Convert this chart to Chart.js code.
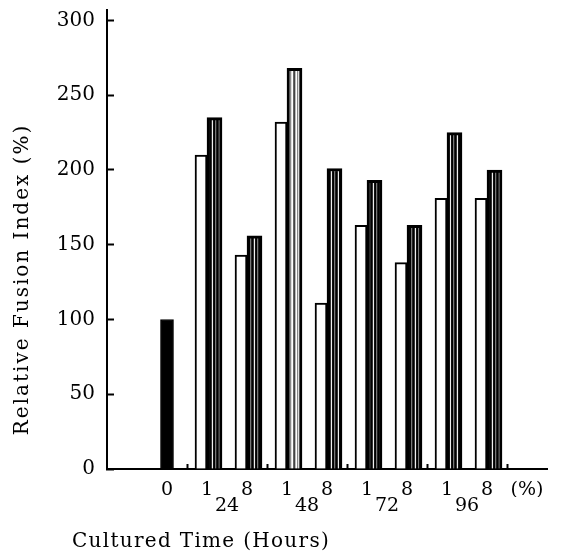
<!DOCTYPE html>
<html>
<head>
<meta charset="utf-8">
<title>Relative Fusion Index</title>
<script src="https://cdn.jsdelivr.net/npm/chart.js@4"></script>
<style>
html, body { margin: 0; padding: 0; background: #fff; }
</style>
</head>
<body>
<canvas id="fusionChart" width="561" height="553"></canvas>
<script>
// x categories: an empty slot, the control, pairs of doses (1 and 8 %), then the unit
var doseLabels = ['', '0', '1', '8', '1', '8', '1', '8', '1', '8', '(%)'];
var hourLabels = ['24', '48', '72', '96'];

var controlValues = [null, 100, null, null, null, null, null, null, null, null, null];
var plainValues   = [null, null, 210, 143, 232, 111, 163, 138, 181, 181, null];
var stripedValues = [null, null, 235, 156, 268, 201, 193, 163, 225, 200, null];

var yTicks = [0, 50, 100, 150, 200, 250, 300];

// hour label sits between the "1" and the "8" of its pair
var hourSlots = [];
doseLabels.forEach(function (d, i) {
    if (d === '1') hourSlots.push(i + 0.5);
});

function stripes(cols) {
    var c = document.createElement('canvas');
    c.width = cols.length;
    c.height = 4;
    var g = c.getContext('2d');
    cols.forEach(function (col, i) {
        g.fillStyle = col;
        g.fillRect(i, 0, 1, 4);
    });
    return g.createPattern(c, 'repeat');
}
var darkStripes = stripes(['#000', '#333', '#eee', '#111', '#000', '#777', '#222']);
var lightStripes = stripes(['#444', '#bbb', '#fff', '#888', '#ddd', '#fff', '#666']);

var serif = 'DejaVu Serif';

// axis titles are placed off-centre in the original, so draw them by hand
var axisTitles = {
    id: 'axisTitles',
    afterDraw: function (chart) {
        var c = chart.ctx;
        var area = chart.chartArea;
        c.save();
        c.fillStyle = '#000';
        c.font = '20px "' + serif + '"';
        c.letterSpacing = '1.3px';
        c.textAlign = 'left';
        c.textBaseline = 'alphabetic';
        c.fillText('Cultured Time (Hours)', area.left - 35, chart.height - 6);

        c.translate(area.left - 79, (area.top + area.bottom) / 2 + 40);
        c.rotate(-Math.PI / 2);
        c.letterSpacing = '2px';
        c.textAlign = 'center';
        c.fillText('Relative Fusion Index (%)', 0, 0);
        c.restore();
    }
};

var ctx = document.getElementById('fusionChart').getContext('2d');
var fusionChart = new Chart(ctx, {
    type: 'bar',
    data: {
        labels: doseLabels,
        datasets: [{
            label: 'Control',
            data: controlValues,
            backgroundColor: '#000',
            borderColor: '#000',
            borderWidth: 1,
            barThickness: 13
        }, {
            label: 'Open',
            data: plainValues,
            backgroundColor: '#fff',
            borderColor: '#000',
            borderWidth: 2,
            barThickness: 12
        }, {
            label: 'Striped',
            data: stripedValues,
            backgroundColor: function (c) {
                return c.dataIndex === 4 ? lightStripes : darkStripes;
            },
            borderColor: '#000',
            borderWidth: 3,
            barThickness: 15
        }]
    },
    options: {
        responsive: false,
        animation: false,
        datasets: {
            bar: { skipNull: true }
        },
        layout: {
            padding: {
                left: 40,
                right: 14,
                top: 10,
                bottom: 32
            }
        },
        plugins: {
            legend: { display: false },
            tooltip: { enabled: false }
        },
        scales: {
            x: {
                type: 'category',
                offset: true,
                weight: 0,
                border: { color: '#000', width: 2 },
                grid: {
                    offset: true,
                    drawOnChartArea: false,
                    tickLength: -5,
                    tickWidth: 2,
                    tickColor: function (c) {
                        return c.index >= 2 && c.index % 2 === 0 ? '#000' : 'rgba(0,0,0,0)';
                    }
                },
                afterFit: function (s) { s.height = 28; },
                ticks: {
                    color: '#000',
                    autoSkip: false,
                    maxRotation: 0,
                    padding: 15,
                    font: { family: serif, size: 19 }
                }
            },
            x2: {
                type: 'linear',
                position: 'bottom',
                weight: 1,
                offset: false,
                bounds: 'data',
                min: -0.5,
                max: doseLabels.length - 0.5,
                border: { display: false },
                grid: { display: false, offset: false },
                afterBuildTicks: function (s) {
                    s.ticks = hourSlots.map(function (v) { return { value: v }; });
                },
                afterFit: function (s) { s.height = 24; },
                ticks: {
                    color: '#000',
                    padding: -10,
                    maxRotation: 0,
                    font: { family: serif, size: 19 },
                    callback: function (v, i) { return hourLabels[i]; }
                }
            },
            y: {
                min: 0,
                max: 307,
                border: { color: '#000', width: 2 },
                grid: {
                    drawOnChartArea: false,
                    tickLength: -7,
                    tickWidth: 2,
                    tickColor: '#000'
                },
                afterBuildTicks: function (s) {
                    s.ticks = yTicks.map(function (v) { return { value: v }; });
                },
                afterFit: function (s) {
                    s.width = 67;
                    s.paddingTop = 0;
                    s.paddingBottom = 0;
                },
                ticks: {
                    color: '#000',
                    padding: 19,
                    font: { family: serif, size: 20 }
                }
            }
        }
    },
    plugins: [axisTitles]
});
</script>
</body>
</html>
